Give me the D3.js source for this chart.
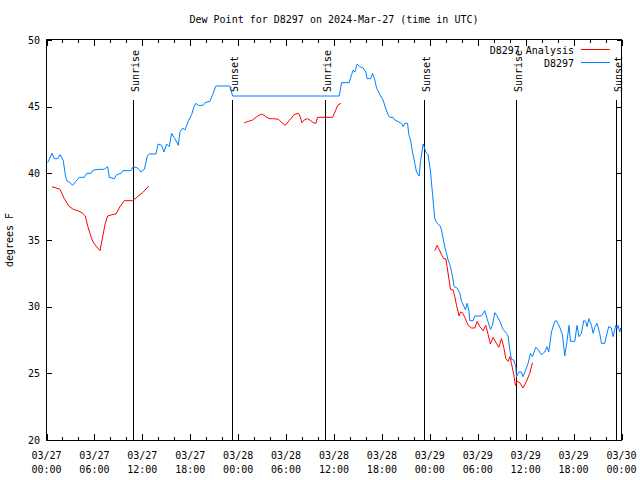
<!DOCTYPE html>
<html>
<head>
<meta charset="utf-8">
<script src="https://cdn.jsdelivr.net/npm/d3@7"></script>
<style>
  html, body { margin: 0; padding: 0; background: #fff; }
  svg text { font-family: "DejaVu Sans Mono", monospace; font-size: 10px; fill: #000; }
</style>
</head>
<body>
<svg id="chart" width="640" height="480"></svg>
<script>
// ---- data (hours since 2024-03-27 00:00 UTC) ----
const blueHours = [0.15,0.69,0.98,1.40,1.69,2.10,2.35,2.53,2.94,3.28,3.69,4.10,4.73,5.03,5.57,5.86,6.61,7.23,7.66,7.86,8.49,8.79,9.32,9.54,10.58,10.86,11.41,11.83,12.24,12.33,12.62,12.87,13.70,13.99,14.42,14.71,15.04,15.37,15.67,16.08,16.50,16.71,17.05,17.33,17.75,18.17,18.46,18.71,19.00,19.62,19.84,20.46,20.80,21.21,22.97,23.30,36.65,36.95,37.90,38.20,38.40,38.61,38.90,39.24,39.65,39.99,40.15,40.58,40.83,41.11,41.33,41.74,42.15,42.45,42.78,42.99,43.40,43.62,44.46,44.66,44.87,45.21,45.37,45.58,45.83,46.12,46.33,46.66,46.83,47.16,47.50,47.78,48.09,48.34,48.62,48.91,49.25,49.46,49.87,50.29,50.59,50.84,51.04,51.41,51.75,51.96,52.29,52.46,52.67,52.88,53.00,53.42,53.63,54.47,54.88,55.17,55.59,55.84,56.13,56.42,56.76,57.17,57.60,57.80,58.01,58.22,58.51,58.76,58.85,59.14,59.47,59.67,60.10,60.30,60.60,60.85,61.26,61.55,61.98,62.39,62.68,62.89,63.23,63.64,63.85,64.27,64.61,64.89,65.18,65.43,65.61,66.15,66.43,66.68,66.98,67.27,67.52,67.68,67.93,68.24,68.44,68.65,68.94,69.27,69.49,69.90,70.11,70.40,70.74,70.94,71.28,71.44,71.56,71.78,71.90];
const blueValues = [40.8,41.5,41.1,41.1,41.4,40.95,39.9,39.45,39.3,39.1,39.4,39.7,39.7,40.0,40.0,40.25,40.3,40.3,40.5,39.7,39.6,39.9,40.0,40.2,40.2,40.5,40.4,40.1,40.3,40.5,41.3,41.45,41.45,42.2,42.1,41.6,42.2,42.0,43.0,42.6,42.1,43.1,43.4,43.25,43.9,44.4,45.0,45.25,45.1,45.1,45.3,45.4,45.9,46.55,46.55,45.8,45.8,46.8,46.8,47.4,47.75,47.6,48.2,48.0,47.9,47.6,47.1,47.1,47.5,47.0,46.4,45.9,45.5,44.9,44.4,44.2,44.2,44.0,43.75,43.5,43.75,43.75,42.9,42.5,41.6,40.75,40.1,39.8,40.9,42.2,41.6,41.4,40.1,38.4,36.6,36.25,36.1,35.75,34.5,33.5,33.0,32.25,31.5,31.4,31.05,30.4,30.0,29.75,30.25,29.75,28.95,28.95,29.3,29.3,29.7,29.1,28.3,28.6,29.55,29.3,28.9,28.3,28.0,27.8,26.8,26.05,26.0,25.5,24.75,25.1,25.1,24.75,25.4,25.75,26.5,26.25,26.95,26.8,26.4,26.6,27.0,26.6,28.1,28.9,28.95,28.45,27.9,26.3,27.4,28.6,27.4,27.4,28.6,27.75,28.0,28.95,28.9,28.5,29.1,28.6,28.0,28.45,28.75,28.0,27.25,27.25,27.8,28.5,28.4,27.75,28.6,28.35,28.6,28.1,28.4];

const redHours = [0.69,1.19,1.69,2.23,2.78,3.35,3.90,4.44,4.86,5.16,5.44,5.78,6.20,6.70,7.03,7.36,7.66,8.20,8.70,9.20,9.74,10.79,11.41,12.12,12.79,
  18.0,
  24.76,25.31,25.81,26.31,26.97,27.47,27.88,28.39,29.06,29.47,29.89,30.39,31.01,31.56,31.73,31.98,32.27,32.69,33.10,33.39,33.73,33.94,35.82,36.23,36.45,36.86,
  42.0,
  48.62,48.91,49.16,49.46,49.75,50.00,50.16,50.41,50.59,50.91,51.13,51.34,51.66,51.84,52.09,52.38,52.79,53.22,53.63,53.92,54.26,54.67,55.01,55.30,55.59,55.92,56.34,56.63,56.97,57.26,57.51,57.80,58.01,58.22,58.51,58.72,58.92,59.26,59.67,60.10,60.51,60.85];
const redValues = [39.0,38.9,38.8,38.1,37.55,37.3,37.2,37.05,36.8,36.05,35.5,34.9,34.55,34.2,35.25,36.25,36.8,36.9,36.95,37.5,37.95,37.95,38.25,38.6,39.05,
  null,
  43.8,43.9,44.0,44.25,44.45,44.25,44.1,44.1,44.05,43.8,43.6,43.95,44.4,44.5,44.3,43.8,44.0,44.1,43.95,43.8,43.75,44.2,44.2,44.75,45.1,45.25,
  null,
  34.2,34.6,34.3,33.9,33.6,33.6,33.0,32.0,31.3,31.25,30.75,30.1,29.3,29.6,29.55,29.2,28.6,28.4,28.4,28.9,28.5,28.2,28.6,27.9,27.2,27.7,27.25,26.95,27.6,26.95,26.1,25.9,26.25,25.75,24.9,24.1,24.4,24.3,23.9,24.4,25.0,25.8];

const sunHours  = [10.86, 23.25, 34.89, 47.28, 58.80, 71.36];
const sunLabels = ["Sunrise","Sunset","Sunrise","Sunset","Sunrise","Sunset"];
const yTicks = [20,25,30,35,40,45,50];
const seriesNames = ["D8297 Analysis","D8297"];
const seriesColors = ["#ff0000","#0080ff"];
const titleText = "Dew Point for D8297 on 2024-Mar-27 (time in UTC)";
const yLabel = "degrees F";

// ---- setup ----
const start = Date.UTC(2024,2,27,0,0);
const toDate = h => new Date(start + h*3600e3);
const L = 46.5, R = 621.5, T = 40, B = 440;

const svg = d3.select("#chart");
const x = d3.scaleUtc().domain([toDate(0), toDate(72)]).range([L, R]);
const y = d3.scaleLinear().domain([20,50]).range([B, T]);

// title
svg.append("text").attr("x", 334).attr("y", 23).attr("text-anchor","middle").text(titleText);

// frame
svg.append("rect").attr("x", L).attr("y", T - 0.5).attr("width", R - L).attr("height", B - T + 1)
  .attr("fill","none").attr("stroke","#000").attr("stroke-width",1).attr("shape-rendering","crispEdges");

// x ticks
const majorT = d3.range(0, 73, 6).map(toDate);
const minorT = d3.range(0, 73, 2).filter(h => h % 6 !== 0).map(toDate);
const gt = svg.append("g").attr("stroke","#000").attr("shape-rendering","crispEdges");
majorT.forEach(d => {
  const px = Math.round(x(d)) + 0.5;
  gt.append("line").attr("x1",px).attr("x2",px).attr("y1",B).attr("y2",B-6);
  gt.append("line").attr("x1",px).attr("x2",px).attr("y1",T).attr("y2",T+6);
});
minorT.forEach(d => {
  const px = Math.round(x(d)) + 0.5;
  gt.append("line").attr("x1",px).attr("x2",px).attr("y1",B).attr("y2",B-3);
  gt.append("line").attr("x1",px).attr("x2",px).attr("y1",T).attr("y2",T+3);
});
yTicks.forEach(v => {
  const py = Math.round(y(v)) + 0.5;
  gt.append("line").attr("x1",L).attr("x2",L+5).attr("y1",py).attr("y2",py);
  gt.append("line").attr("x1",R-5).attr("x2",R).attr("y1",py).attr("y2",py);
});

// x tick labels
const fD = d3.utcFormat("%m/%d"), fH = d3.utcFormat("%H:%M");
majorT.forEach(d => {
  const t = svg.append("text").attr("x", x(d)).attr("text-anchor","middle");
  t.append("tspan").attr("x", x(d)).attr("y", 459).text(fD(d));
  t.append("tspan").attr("x", x(d)).attr("y", 473).text(fH(d));
});
// y tick labels
yTicks.forEach(v => {
  svg.append("text").attr("x", 40).attr("y", y(v) + 3.5).attr("text-anchor","end").text(v);
});
// y label
svg.append("text").attr("transform","translate(13,240) rotate(-90)").attr("text-anchor","middle").text(yLabel);

// sun lines
sunHours.forEach((h, i) => {
  const px = Math.round(x(toDate(h))) + 0.5;
  svg.append("line").attr("x1",px).attr("x2",px).attr("y1", T + 0.15*(B-T)).attr("y2", B)
    .attr("stroke","#000").attr("shape-rendering","crispEdges");
  svg.append("text").attr("transform",`translate(${px+5},92) rotate(-90)`).attr("text-anchor","start").text(sunLabels[i]);
});

// series
const redData = redHours.map((h,i) => ({d: toDate(h), v: redValues[i]}));
const blueData = blueHours.map((h,i) => ({d: toDate(h), v: blueValues[i]}));
const line = d3.line().defined(p => p.v != null).x(p => x(p.d)).y(p => y(p.v));
svg.append("path").datum(redData).attr("d", line).attr("fill","none").attr("stroke",seriesColors[0]).attr("stroke-width",1);
svg.append("path").datum(blueData).attr("d", line).attr("fill","none").attr("stroke",seriesColors[1]).attr("stroke-width",1);

// legend
const legY = [49.5, 62.5];
seriesNames.forEach((n, i) => {
  svg.append("text").attr("x", 574).attr("y", legY[i] + 4).attr("text-anchor","end").text(n);
  svg.append("line").attr("x1",581).attr("x2",610).attr("y1",legY[i]).attr("y2",legY[i])
    .attr("stroke",seriesColors[i]).attr("shape-rendering","crispEdges");
});
</script>
</body>
</html>
